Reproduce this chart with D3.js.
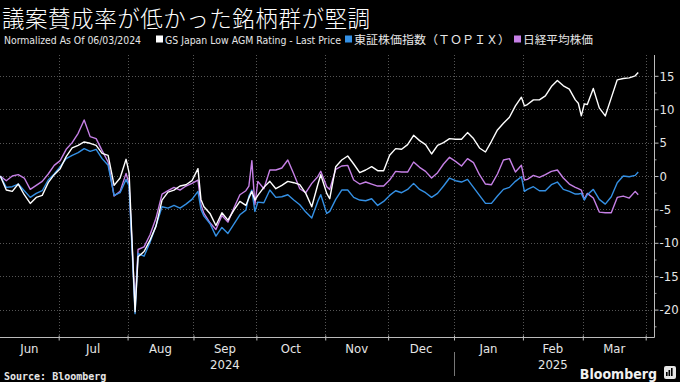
<!DOCTYPE html>
<html><head><meta charset="utf-8">
<script src="https://cdn.jsdelivr.net/npm/d3@7"></script>
<style>
html,body{margin:0;padding:0;background:#000;}
svg{display:block;}
</style></head><body>
<svg id="chart" width="680" height="382"></svg>
<script>
// ---------------- DATA ----------------
const dates = [
"2024-06-03","2024-06-05","2024-06-07","2024-06-11","2024-06-13","2024-06-17","2024-06-19","2024-06-21","2024-06-25","2024-06-27",
"2024-07-01","2024-07-03","2024-07-05","2024-07-09","2024-07-11","2024-07-15","2024-07-17","2024-07-19","2024-07-23","2024-07-25",
"2024-07-29","2024-07-31","2024-08-01","2024-08-05","2024-08-06","2024-08-08","2024-08-12","2024-08-14","2024-08-16","2024-08-20",
"2024-08-22","2024-08-26","2024-08-28","2024-08-30","2024-09-03","2024-09-04","2024-09-05","2024-09-09","2024-09-11","2024-09-13",
"2024-09-17","2024-09-19","2024-09-23","2024-09-25","2024-09-26","2024-09-27","2024-09-30","2024-10-01","2024-10-03","2024-10-07",
"2024-10-09","2024-10-11","2024-10-15","2024-10-17","2024-10-21","2024-10-23","2024-10-25","2024-10-29","2024-10-30","2024-11-01",
"2024-11-04","2024-11-06","2024-11-08","2024-11-12","2024-11-14","2024-11-18","2024-11-20","2024-11-22","2024-11-26","2024-11-28",
"2024-12-02","2024-12-04","2024-12-06","2024-12-10","2024-12-12","2024-12-16","2024-12-18","2024-12-20","2024-12-24","2024-12-26",
"2024-12-30","2025-01-01","2025-01-03","2025-01-07","2025-01-09","2025-01-13","2025-01-15","2025-01-17","2025-01-21","2025-01-23",
"2025-01-27","2025-01-29","2025-01-31","2025-02-03","2025-02-04","2025-02-06","2025-02-10","2025-02-12","2025-02-14","2025-02-18",
"2025-02-20","2025-02-24","2025-02-26","2025-02-27","2025-02-28","2025-03-03","2025-03-04","2025-03-06","2025-03-10","2025-03-12",
"2025-03-14","2025-03-18","2025-03-20","2025-03-24","2025-03-26","2025-03-27"
];
const gsValues = [
0,-2.1,-2.3,-1.2,-2.8,-4.1,-3.2,-2.9,-1.0,0.2,
1.1,2.9,4.2,4.6,5.1,4.9,4.6,3.4,3.1,-1.4,
-0.3,2.5,0.5,-20.3,-12.1,-11.3,-9.6,-7.5,-3.6,-2.4,
-2.1,-1.5,-1.3,-0.7,1.1,-3.5,-4.6,-5.6,-7.4,-5.5,
-6.6,-5.1,-3.8,-4.4,-3.3,-2.3,-3.6,-2.9,-1.7,-0.8,
-1.9,-1.4,-0.8,-1.0,-1.3,-2.6,-4.6,-1.3,0.2,-2.6,
-3.4,1.4,2.4,3.0,1.8,0.5,0.9,1.4,0.8,0.8,
3.1,4.1,4.0,4.7,6.1,5.3,4.7,3.3,4.6,5.0,
5.6,5.5,5.5,6.5,5.6,4.2,3.6,5.2,6.9,7.9,
8.8,10.5,11.8,10.5,10.7,11.4,11.4,12.0,13.4,14.3,
13.5,13.0,11.4,10.9,9.0,10.8,10.7,13.1,10.2,9.0,
11.7,14.4,14.6,14.7,15.0,15.5
];
const topixValues = [
0,-1.7,-1.6,-1.2,-2.2,-3.2,-2.6,-2.2,-0.6,0.3,
1.4,2.6,3.1,3.5,4.1,3.7,4.0,2.6,1.6,-2.9,
-2.5,-0.5,-1.5,-20.6,-11.6,-12.0,-9.9,-7.4,-4.6,-4.8,
-4.4,-4.8,-4.2,-3.5,-2.3,-5.0,-6.0,-7.1,-9.0,-7.7,
-8.6,-7.2,-5.8,-5.1,-3.0,-2.1,-5.3,-3.9,-4.0,-2.1,
-3.2,-3.1,-2.8,-3.6,-4.3,-5.4,-6.3,-3.8,-2.8,-5.6,
-5.3,-3.5,-2.1,-2.1,-3.2,-3.6,-3.7,-3.4,-4.4,-3.8,
-2.9,-2.2,-2.5,-2.0,-1.1,-2.0,-2.5,-3.2,-2.6,-1.5,
-0.3,-0.7,-0.9,-0.5,-1.7,-2.9,-4.1,-4.1,-3.0,-2.0,
-1.7,-0.8,-0.1,-2.3,-2.0,-1.6,-2.2,-2.2,-1.3,-0.9,
-2.0,-2.3,-2.7,-2.7,-2.6,-3.6,-2.8,-2.0,-3.5,-4.2,
-3.1,-1.0,0.0,-0.1,0.1,0.6
];
const nikkeiValues = [
0,-0.7,0.0,0.2,-0.3,-2.0,-1.4,-0.8,0.3,1.6,
2.3,4.0,5.0,6.4,8.4,5.9,5.6,3.8,2.1,-3.0,
-2.3,0.4,-1.2,-19.4,-11.0,-10.6,-8.8,-6.3,-2.7,-2.2,
-1.7,-2.1,-1.5,-1.1,-0.6,-4.3,-5.6,-7.0,-8.0,-5.9,
-6.9,-4.8,-2.8,-2.2,-1.5,2.3,-4.3,-0.8,-1.9,0.9,
0.9,1.2,2.4,0.3,-1.9,-2.5,-1.1,-0.1,0.7,-1.6,
-2.0,1.0,1.5,1.6,-0.6,-1.2,-0.9,-1.2,-1.5,-1.5,
-0.6,0.7,0.6,0.6,2.1,1.3,0.7,-0.3,0.5,1.8,
2.8,2.2,1.5,2.6,2.0,0.2,-1.2,-1.3,0.3,2.4,
2.6,0.6,1.6,-0.6,-0.5,0.1,-0.2,0.2,0.7,0.9,
-0.3,-1.2,-1.7,-1.9,-2.1,-3.5,-2.6,-3.3,-5.4,-5.5,
-5.5,-3.2,-3.0,-3.3,-2.3,-2.8
];
const seriesNames = ["GS Japan Low AGM Rating - Last Price","東証株価指数（ＴＯＰＩＸ）","日経平均株価"];
const seriesColors = ["#ffffff","#3490e4","#c680e6"];
const yTicks = [15,10,5,0,-5,-10,-15,-20];
const monthLabels = ["Jun","Jul","Aug","Sep","Oct","Nov","Dec","Jan","Feb","Mar"];
const monthStarts = ["2024-07-01","2024-08-01","2024-09-02","2024-10-01","2024-11-01","2024-12-02","2025-01-01","2025-02-03","2025-03-03","2025-04-01"];
const yearLabels = ["2024","2025"];
const yearUnderMonth = ["Sep","Feb"];
const titleText = "議案賛成率が低かった銘柄群が堅調";
const subtitleText = "Normalized As Of 06/03/2024";
const sourceText = "Source: Bloomberg";

// ---------------- CHART ----------------
const svg = d3.select("#chart");
svg.append("rect").attr("width",680).attr("height",382).attr("fill","#000");
const latin = "'Liberation Sans Narrow','DejaVu Sans Condensed','Roboto Condensed','Liberation Sans',sans-serif";
const cjk = "'Noto Sans CJK JP','Noto Sans CJK SC',sans-serif";

const parse = d3.utcParse("%Y-%m-%d");
const start = parse(dates[0]);
function wd(d){ const days = d3.utcDay.count(start, d); const w = Math.floor(days/7); return w*5 + Math.min(days%7,5); }

const plotL = 0, plotR = 654, plotT = 55, plotB = 337;
const x = d3.scaleLinear().domain([0,216]).range([0.3, 647.2]);
const y = d3.scaleLinear().domain([-24.1,17.4]).range([plotB, 59.8]);

const tickIdx = monthStarts.map(s => wd(parse(s)) - 0.5);
const tickX = tickIdx.map(t => x(t));

// gridlines
const grid = svg.append("g").attr("stroke","#555").attr("stroke-width",1).attr("stroke-dasharray","1,2");
grid.selectAll("line.h").data(yTicks).join("line")
  .attr("x1",plotL).attr("x2",plotR).attr("y1",d=>Math.round(y(d))+0.5).attr("y2",d=>Math.round(y(d))+0.5);
grid.selectAll("line.v").data(tickX).join("line")
  .attr("x1",d=>Math.round(d)+0.5).attr("x2",d=>Math.round(d)+0.5).attr("y1",plotT).attr("y2",plotB);

// lines
const allSeries = [gsValues, topixValues, nikkeiValues];
const line = d3.line().x((d,i)=>x(wd(parse(dates[i])))).y(d=>y(d));
svg.append("clipPath").attr("id","clip").append("rect").attr("x",plotL).attr("y",plotT).attr("width",plotR-plotL).attr("height",plotB-plotT);
const lg = svg.append("g").attr("clip-path","url(#clip)");
[2,1,0].forEach(k=>{
  lg.append("path").datum(allSeries[k]).attr("d",line).attr("fill","none")
    .attr("stroke",seriesColors[k]).attr("stroke-width",1.4).attr("stroke-linejoin","round");
});

// right axis
const yAxis = d3.axisRight(y).tickValues(yTicks).tickSize(4).tickFormat(d=>String(d));
const ya = svg.append("g").attr("transform",`translate(${plotR+0.5},0)`).call(yAxis);
ya.select(".domain").remove();
ya.selectAll(".tick line").attr("stroke","#bbb");
ya.selectAll(".tick text").attr("fill","#e6e6e6").attr("font-size",13).attr("font-family",latin).attr("x",5);
const minor = d3.axisRight(y).tickValues(d3.range(-22.5,17.5,5)).tickSize(2).tickFormat("");
const ym = svg.append("g").attr("transform",`translate(${plotR+0.5},0)`).call(minor);
ym.select(".domain").remove();
ym.selectAll(".tick line").attr("stroke","#999");
svg.append("line").attr("x1",plotR+0.5).attr("x2",plotR+0.5).attr("y1",plotT).attr("y2",plotB+0.5).attr("stroke","#bbb");

// bottom axis
const xAxis = d3.axisBottom(x).tickValues(tickIdx).tickSize(3).tickFormat("");
const xa = svg.append("g").attr("transform",`translate(0,${plotB+0.5})`).call(xAxis);
xa.select(".domain").remove();
xa.selectAll(".tick line").attr("stroke","#bbb").attr("y1",-2);
svg.append("line").attr("x1",plotL).attr("x2",plotR+0.5).attr("y1",plotB+0.5).attr("y2",plotB+0.5).attr("stroke","#bbb");

const bounds = [plotL].concat(tickX);
const monthCenters = monthLabels.map((m,i)=>(bounds[i]+bounds[i+1])/2);
svg.append("g").selectAll("text").data(monthLabels).join("text")
  .attr("x",(d,i)=>monthCenters[i]).attr("y",353).attr("text-anchor","middle")
  .attr("fill","#e6e6e6").attr("font-size",13).attr("font-family",latin).text(d=>d);
svg.append("g").selectAll("text").data(yearLabels).join("text")
  .attr("x",(d,i)=>monthCenters[monthLabels.indexOf(yearUnderMonth[i])]).attr("y",369).attr("text-anchor","middle")
  .attr("fill","#e6e6e6").attr("font-size",13).attr("font-family",latin).text(d=>d);
svg.append("line").attr("x1",Math.round(tickX[6])+0.5).attr("x2",Math.round(tickX[6])+0.5)
  .attr("y1",352).attr("y2",376).attr("stroke","#777");

// title
svg.append("text").attr("x",2).attr("y",27).attr("fill","#fff").attr("font-size",22.5).attr("font-weight",300)
  .attr("font-family",cjk).attr("textLength",368).attr("lengthAdjust","spacing").text(titleText);

// legend
const legY = 44;
svg.append("text").attr("x",4).attr("y",legY).attr("fill","#e6e6e6").attr("font-size",11).attr("font-family",latin)
  .attr("textLength",137).attr("lengthAdjust","spacingAndGlyphs").text(subtitleText);
const legX = [156,345,514];
const legFonts = [latin,cjk,cjk];
const legSizes = [11,11.5,11.5];
const legWidths = [176,156,70];
seriesNames.forEach((n,k)=>{
  svg.append("rect").attr("x",legX[k]).attr("y",legY-8.5).attr("width",7).attr("height",7).attr("fill",seriesColors[k]);
  svg.append("text").attr("x",legX[k]+9).attr("y",legY).attr("fill","#e6e6e6").attr("font-size",legSizes[k])
    .attr("font-family",legFonts[k]).attr("textLength",legWidths[k]).attr("lengthAdjust","spacingAndGlyphs").text(n);
});

// footer
svg.append("text").attr("x",4).attr("y",380).attr("fill","#e6e6e6").attr("font-size",10).attr("font-weight","bold")
  .attr("font-family","'DejaVu Sans Mono','Liberation Mono',monospace").text(sourceText);
svg.append("text").attr("x",657).attr("y",379).attr("text-anchor","end").attr("fill","#f0f0f0").attr("font-size",14).attr("font-weight","bold")
  .attr("font-family",latin).text("Bloomberg");
const logo = svg.append("g").attr("transform","translate(664,366)");
logo.append("rect").attr("width",12).attr("height",13).attr("rx",2).attr("fill","#e6e6e6");
[[3,4],[5.5,6],[8,8]].forEach(([bx,bh])=>{
  logo.append("rect").attr("x",bx-1).attr("y",10-bh).attr("width",1.6).attr("height",bh).attr("fill","#000");
});
</script>
</body></html>
